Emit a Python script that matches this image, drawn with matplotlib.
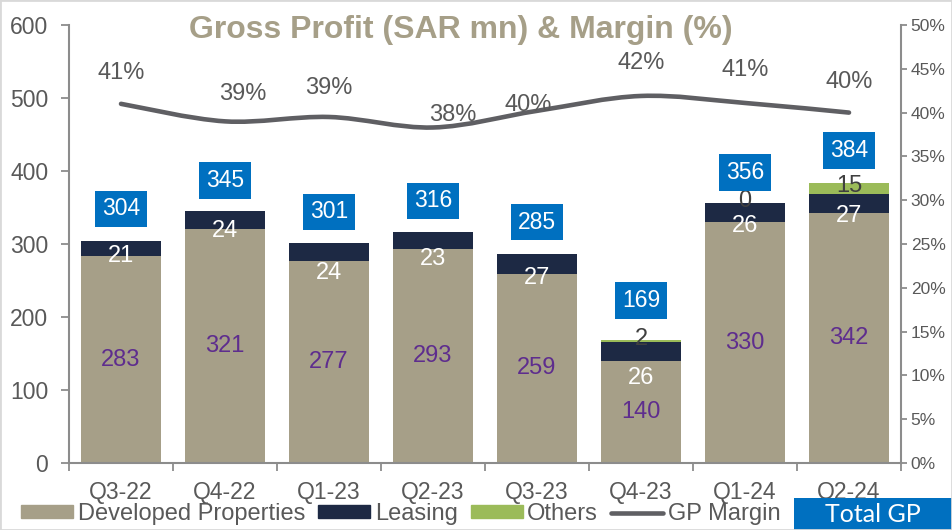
import numpy as np
import matplotlib
matplotlib.use("Agg")
import matplotlib.pyplot as plt
from matplotlib.path import Path
from matplotlib.patches import PathPatch, Patch, Rectangle
from matplotlib.lines import Line2D
from matplotlib.ticker import MultipleLocator, FuncFormatter

plt.rcParams["font.family"] = ["Liberation Sans", "DejaVu Sans"]

quarters = ["Q3-22", "Q4-22", "Q1-23", "Q2-23", "Q3-23", "Q4-23", "Q1-24", "Q2-24"]
developed = [283, 321, 277, 293, 259, 140, 330, 342]
leasing = [21, 24, 24, 23, 27, 26, 26, 27]
others = [np.nan, np.nan, np.nan, np.nan, np.nan, 2, 0, 15]
total_gp = [304, 345, 301, 316, 285, 169, 356, 384]
gp_margin = [41.0, 39.0, 39.5, 38.3, 40.2, 41.9, 41.1, 40.0]
margin_labels = ["41%", "39%", "39%", "38%", "40%", "42%", "41%", "40%"]

# label nudges, as placed in the original slide
margin_label_offsets = [(0, 22), (13, 20), (0, 21), (14, 9), (-6, 4), (0, 24), (0, 24), (0, 22)]
leasing_label_drop = [0, 3, 17, 13, 5, 24, 5, 3]
total_box_gap = [44, 42, 43, 43, 45, 54, 42, 44]

c_dev = "#A69F88"
c_lease = "#1D2944"
c_other = "#9BBB59"
c_line = "#5F5F63"
c_blue = "#0070C0"
c_text = "#595959"
c_axis = "#8C8C8C"


def smooth_path(xs, ys):
    pts = np.column_stack([xs, ys]).astype(float)
    n = len(pts)
    verts = [pts[0]]
    codes = [Path.MOVETO]
    for i in range(n - 1):
        p0 = pts[max(i - 1, 0)]
        p1 = pts[i]
        p2 = pts[i + 1]
        p3 = pts[min(i + 2, n - 1)]
        verts += [p1 + (p2 - p0) / 6, p2 - (p3 - p1) / 6, p2]
        codes += [Path.CURVE4] * 3
    return Path(verts, codes)


fig = plt.figure(figsize=(9.52, 5.3), dpi=100)
ax = fig.add_axes([69 / 952, 67 / 530, 832 / 952, 438 / 530])

x = np.arange(len(quarters))
dev = np.array(developed, dtype=float)
lea = np.array(leasing, dtype=float)
oth = np.array(others, dtype=float)
w = 0.77

ax.bar(x, dev, width=w, color=c_dev)
ax.bar(x, lea, width=w, bottom=dev, color=c_lease)
ax.bar(x, np.nan_to_num(oth), width=w, bottom=dev + lea, color=c_other)

for i in range(len(x)):
    ax.text(x[i], dev[i] / 2, f"{developed[i]}", ha="center", va="center",
            color="#5E2D8E", fontsize=17)
    ax.text(x[i], dev[i] - leasing_label_drop[i], f"{leasing[i]}", ha="center",
            va="center", color="white", fontsize=17)
    if not np.isnan(oth[i]):
        ax.text(x[i], dev[i] + lea[i] + oth[i] / 2 + 3, f"{others[i]:.0f}",
                ha="center", va="center", color="#404040", fontsize=17)
    ax.text(x[i], total_gp[i] + total_box_gap[i], f"{total_gp[i]}", ha="center",
            va="center", color="white", fontsize=16.5,
            bbox=dict(boxstyle="square,pad=0.3", fc=c_blue, ec="none"))

ax.set_xlim(-0.5, len(quarters) - 0.5)
ax.set_ylim(0, 600)
ax.yaxis.set_major_locator(MultipleLocator(100))
ax.set_xticks(x)
ax.set_xticklabels(quarters)
ax.set_xticks(np.arange(-0.5, len(quarters), 1), minor=True)
ax.tick_params(axis="x", which="major", length=0, pad=13, labelsize=16.5, labelcolor=c_text)
ax.tick_params(axis="x", which="minor", length=6, width=1.3, color=c_axis)
ax.tick_params(axis="y", length=6, width=1.3, color=c_axis, pad=9, labelsize=16.5,
               labelcolor=c_text)
for s in ["top", "right"]:
    ax.spines[s].set_visible(False)
for s in ["left", "bottom"]:
    ax.spines[s].set_color(c_axis)
    ax.spines[s].set_linewidth(1.5)

ax2 = ax.twinx()
ax2.set_ylim(0, 50)
ax2.yaxis.set_major_locator(MultipleLocator(5))
ax2.yaxis.set_major_formatter(FuncFormatter(lambda v, p: f"{v:.0f}%"))
ax2.tick_params(axis="y", length=4, width=1.3, color=c_axis, pad=3, labelsize=12.5,
                labelcolor=c_text)
for s in ["top", "left", "bottom"]:
    ax2.spines[s].set_visible(False)
ax2.spines["right"].set_color(c_axis)
ax2.spines["right"].set_linewidth(1.5)

ax2.add_patch(PathPatch(smooth_path(x, gp_margin), fill=False, edgecolor=c_line,
                        lw=3.3, capstyle="round"))
for i in range(len(x)):
    ax2.annotate(margin_labels[i], (x[i], gp_margin[i]), xytext=margin_label_offsets[i],
                 textcoords="offset points", ha="center", va="center",
                 fontsize=17, color=c_text)

fig.text(461 / 952, 1 - 30 / 530, "Gross Profit (SAR mn) & Margin (%)", ha="center",
         va="center", fontsize=23, fontweight="bold", color=c_dev)

handles = [
    Patch(color=c_dev),
    Patch(color=c_lease),
    Patch(color=c_other),
    Line2D([0], [0], color=c_line, lw=3.3, solid_capstyle="round"),
]
fig.legend(handles, ["Developed Properties", "Leasing", "Others", "GP Margin"],
           loc="center left", bbox_to_anchor=(21 / 952, 16 / 530), ncol=4,
           frameon=False, fontsize=17, handlelength=2.2, handletextpad=0.2,
           columnspacing=0.55, handleheight=0.45, borderpad=0, borderaxespad=0,
           labelcolor=c_text)

fig.patches.append(Rectangle((794 / 952, 0), 158 / 952, 32 / 530,
                             transform=fig.transFigure, fc=c_blue, ec="none"))
fig.text(873 / 952, 16 / 530, "Total GP", ha="center", va="center", fontsize=18,
         color="white", family=["Lato", "DejaVu Sans"])

fig.patches.append(Rectangle((0, 0), 1, 1, transform=fig.transFigure, fill=False,
                             ec="#D9D9D9", lw=2))

fig.savefig("out.png", dpi=100)
